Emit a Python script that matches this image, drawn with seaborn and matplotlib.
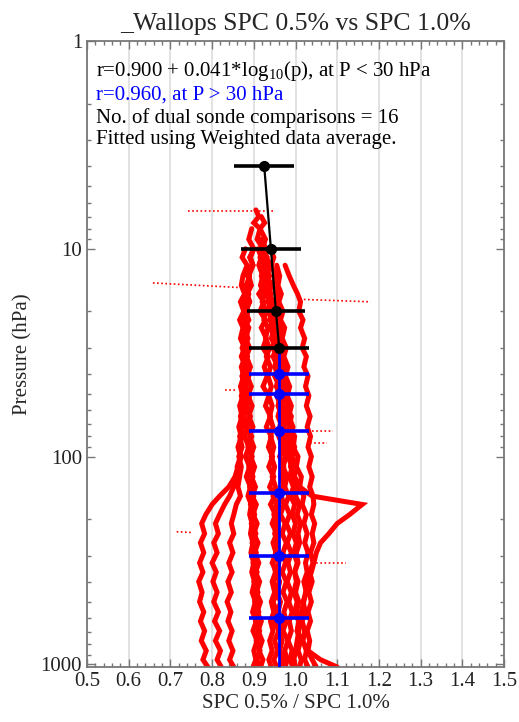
import numpy as np
import pandas as pd
import matplotlib
matplotlib.use("Agg")
import matplotlib.pyplot as plt
from matplotlib.ticker import MultipleLocator, FixedLocator, LogLocator, NullFormatter, FixedFormatter
import seaborn as sns

# ---------------- data ----------------
TITLE = "_Wallops SPC 0.5% vs SPC 1.0%"
XLABEL = "SPC 0.5% / SPC 1.0%"
YLABEL = "Pressure (hPa)"
X_TICKS = [0.5, 0.6, 0.7, 0.8, 0.9, 1.0, 1.1, 1.2, 1.3, 1.4, 1.5]
X_TICK_LABELS = ["0.5", "0.6", "0.7", "0.8", "0.9", "1.0", "1.1", "1.2", "1.3", "1.4", "1.5"]
Y_TICKS = [1, 10, 100, 1000]
Y_TICK_LABELS = ["1", "10", "100", "1000"]

# fitted (weighted average) points, upper part (black) and lower part (blue)
fit_p_upper = [4, 10, 20, 30]
fit_r_upper = [0.925, 0.941, 0.953, 0.961]
fit_err_upper = [0.072, 0.071, 0.070, 0.072]
fit_p_lower = [40, 50, 75, 150, 300, 600]
fit_r_lower = [0.960, 0.960, 0.960, 0.960, 0.960, 0.960]
fit_err_lower = [0.072, 0.072, 0.072, 0.072, 0.072, 0.072]
const_r = 0.960
const_p_range = [30, 1030]

# individual dual-sonde ratio profiles
levels = [6.5, 7, 7.5, 8, 9, 10, 11, 12, 13.5, 15,
          16.5, 18, 20, 22, 24, 27, 30, 33, 37, 41,
          46, 51, 57, 64, 72, 80, 90, 100, 112, 125,
          140, 155, 170, 190, 210, 235, 260, 290, 325, 360,
          400, 450, 500, 560, 620, 690, 770, 860, 950, 1030]
N = np.nan
prof01 = [0.905, 0.912, 0.900, 0.915, 0.908, 0.922, 0.915, 0.928, 0.918, 0.925,
          0.912, 0.924, 0.915, 0.928, 0.918, 0.930, 0.922, 0.935, 0.925, 0.932,
          0.922, 0.936, 0.928, 0.940, 0.930, 0.942, 0.935, 0.945, 0.936, 0.948,
          0.938, 0.950, 0.940, 0.952, 0.944, 0.955, 0.946, 0.953, 0.944, 0.956,
          0.948, 0.958, 0.946, 0.955, 0.948, 0.960, 0.950, 0.957, 0.948, 0.955]
prof02 = [N, 0.918, 0.926, 0.915, 0.928, 0.920, 0.932, 0.925, 0.938, 0.930,
          0.942, 0.935, 0.946, 0.938, 0.950, 0.942, 0.955, 0.946, 0.958, 0.950,
          0.962, 0.955, 0.965, 0.958, 0.968, 0.960, 0.970, 0.962, 0.972, 0.965,
          0.974, 0.966, 0.972, 0.964, 0.975, 0.968, 0.978, 0.970, 0.976, 0.968,
          0.978, 0.970, 0.980, 0.972, 0.978, 0.970, 0.982, 0.974, 0.980, 0.975]
prof03 = [N, N, N, 0.895, 0.888, 0.900, 0.890, 0.898, 0.885, 0.893,
          0.882, 0.890, 0.880, 0.888, 0.878, 0.886, 0.876, 0.885, 0.878, 0.888,
          0.880, 0.890, 0.882, 0.892, 0.884, 0.895, 0.886, 0.896, 0.888, 0.898,
          0.890, 0.900, 0.892, 0.902, 0.894, 0.905, 0.896, 0.906, 0.898, 0.908,
          0.900, 0.910, 0.902, 0.912, 0.904, 0.914, 0.906, 0.915, 0.908, 0.912]
prof04 = [N, N, N, N, 0.915, 0.922, 0.930, 0.924, 0.935, 0.928,
          0.940, 0.934, 0.945, 0.950, 0.944, 0.955, 0.948, 0.960, 0.954, 0.965,
          0.958, 0.968, 0.962, 0.972, 0.965, 0.975, 0.968, 0.978, 0.970, 0.980,
          0.974, 0.984, 0.976, 0.986, 0.978, 0.988, 0.980, 0.990, 0.982, 0.988,
          0.980, 0.990, 0.984, 0.992, 0.985, 0.990, 0.982, 0.992, 0.986, 0.994]
prof05 = [N, N, N, N, N, 0.880, 0.872, 0.884, 0.874, 0.870,
          0.878, 0.868, 0.876, 0.866, 0.874, 0.868, 0.878, 0.870, 0.880, 0.872,
          0.882, 0.874, 0.884, 0.876, 0.886, 0.878, 0.888, 0.880, 0.890, 0.882,
          0.892, 0.886, 0.894, 0.890, 0.896, 0.892, 0.898, 0.893, 0.900, 0.895,
          0.902, 0.896, 0.904, 0.897, 0.906, 0.898, 0.908, 0.900, 0.905, 0.898]
prof06 = [N, N, N, N, N, 0.940, 0.948, 0.942, 0.952, 0.946,
          0.956, 0.950, 0.960, 0.954, 0.965, 0.958, 0.968, 0.962, 0.972, 0.966,
          0.976, 0.970, 0.980, 0.974, 0.985, 0.978, 0.988, 0.982, 0.992, 0.986,
          0.995, 0.988, 0.998, 0.992, 1.000, 0.994, 1.002, 0.996, 1.004, 0.998,
          1.006, 1.000, 1.008, 1.002, 1.010, 1.004, 1.012, 1.006, 1.014, 1.010]
prof07 = [N, N, N, N, N, N, N, 0.975, 0.985, 0.995,
          1.005, 1.012, 1.008, 1.018, 1.012, 1.022, 1.016, 1.026, 1.020, 1.030,
          1.024, 1.032, 1.026, 1.035, 1.028, 1.036, 1.030, 1.038, 1.032, 1.040,
          1.034, 1.042, 1.044, 1.038, 1.046, 1.040, 1.044, 1.036, 1.042, 1.034,
          1.040, 1.032, 1.038, 1.030, 1.036, 1.028, 1.034, 1.030, 1.040, 1.050]
prof08 = [N, N, N, N, N, N, 0.930, 0.938, 0.932, 0.942,
          0.936, 0.946, 0.940, 0.952, 0.946, 0.958, 0.952, 0.965, 0.960, 0.972,
          0.968, 0.980, 0.976, 0.990, 0.985, 0.998, 0.994, 1.006, 1.002, 1.014,
          1.010, 1.020, 1.016, 1.026, 1.020, 1.028, 1.022, 1.030, 1.024, 1.028,
          1.020, 1.026, 1.018, 1.024, 1.016, 1.022, 1.018, 1.026, 1.022, 1.030]
prof09 = [N, N, N, N, N, 0.900, 0.892, 0.898, 0.888, 0.894,
          0.884, 0.890, 0.880, 0.886, 0.876, 0.884, 0.874, 0.880, 0.872, 0.878,
          0.870, 0.876, 0.868, 0.874, 0.866, 0.872, 0.864, 0.870, 0.862, 0.855,
          0.840, 0.818, 0.800, 0.785, 0.775, 0.782, 0.772, 0.780, 0.770, 0.778,
          0.768, 0.776, 0.770, 0.780, 0.772, 0.782, 0.774, 0.786, 0.778, 0.790]
prof10 = [N, N, N, N, N, N, N, 0.895, 0.886, 0.892,
          0.882, 0.888, 0.878, 0.884, 0.875, 0.882, 0.872, 0.880, 0.870, 0.876,
          0.868, 0.874, 0.866, 0.872, 0.864, 0.870, 0.862, 0.868, 0.860, 0.864,
          0.852, 0.842, 0.830, 0.818, 0.808, 0.815, 0.804, 0.812, 0.800, 0.810,
          0.802, 0.812, 0.804, 0.815, 0.806, 0.818, 0.808, 0.820, 0.812, 0.822]
prof11 = [N, N, N, N, N, N, N, N, 0.890, 0.882,
          0.888, 0.880, 0.886, 0.878, 0.884, 0.876, 0.882, 0.874, 0.880, 0.872,
          0.878, 0.870, 0.876, 0.868, 0.874, 0.866, 0.872, 0.864, 0.870, 0.866,
          0.862, 0.868, 0.858, 0.852, 0.846, 0.852, 0.842, 0.850, 0.840, 0.848,
          0.838, 0.846, 0.836, 0.845, 0.838, 0.848, 0.840, 0.850, 0.842, 0.852]
prof12 = [N, N, N, N, N, N, N, N, N, 0.876,
          0.884, 0.876, 0.886, 0.878, 0.888, 0.880, 0.890, 0.882, 0.892, 0.884,
          0.894, 0.886, 0.896, 0.888, 0.898, 0.890, 0.900, 0.892, 0.902, 0.894,
          0.904, 0.896, 0.906, 0.898, 0.908, 0.900, 0.910, 0.902, 0.912, 0.904,
          0.914, 0.906, 0.916, 0.908, 0.918, 0.910, 0.920, 0.912, 0.922, 0.916]
prof13 = [N, N, N, N, 0.920, 0.928, 0.922, 0.932, 0.926, 0.936,
          0.930, 0.940, 0.934, 0.945, 0.940, 0.950, 0.946, 0.956, 0.952, 0.962,
          0.958, 0.968, 0.965, 0.975, 0.972, 0.982, 0.980, 0.990, 0.988, 0.998,
          1.010, 1.040, 1.160, 1.130, 1.100, 1.080, 1.060, 1.050, 1.044, 1.038,
          1.030, 1.024, 1.020, 1.014, 1.012, 1.008, 1.004, 1.000, 0.996, 1.000]
prof14 = [N, N, N, N, N, 0.910, 0.918, 0.912, 0.922, 0.916,
          0.926, 0.920, 0.930, 0.924, 0.934, 0.928, 0.938, 0.930, 0.940, 0.934,
          0.942, 0.936, 0.944, 0.938, 0.946, 0.940, 0.948, 0.942, 0.950, 0.944,
          0.952, 0.946, 0.954, 0.948, 0.956, 0.950, 0.958, 0.952, 0.960, 0.954,
          0.962, 0.956, 0.964, 0.958, 0.966, 0.960, 0.968, 0.962, 0.970, 0.966]
prof15 = [N, N, N, N, N, N, N, 0.955, 0.962, 0.958,
          0.966, 0.960, 0.970, 0.964, 0.974, 0.968, 0.978, 0.972, 0.982, 0.976,
          0.986, 0.980, 0.990, 0.984, 0.994, 0.988, 0.998, 0.992, 1.002, 0.996,
          1.006, 1.000, 1.010, 1.004, 1.012, 1.006, 1.010, 1.002, 1.006, 0.998,
          1.002, 0.996, 1.004, 0.998, 1.008, 1.004, 1.016, 1.030, 1.060, 1.100]
prof16 = [N, N, N, N, N, N, N, N, N, N,
          N, N, 0.940, 0.948, 0.942, 0.952, 0.946, 0.956, 0.950, 0.960,
          0.954, 0.964, 0.958, 0.968, 0.962, 0.972, 0.966, 0.975, 0.968, 0.976,
          0.970, 0.965, 0.958, 0.962, 0.954, 0.958, 0.950, 0.955, 0.946, 0.952,
          0.944, 0.950, 0.942, 0.948, 0.940, 0.946, 0.938, 0.944, 0.936, 0.942]
profiles = [prof01, prof02, prof03, prof04, prof05, prof06, prof07, prof08,
            prof09, prof10, prof11, prof12, prof13, prof14, prof15, prof16]

# sparse stray segments (launch / spike artefacts)
stray_r = [[0.742, 0.950], [0.658, 0.875], [1.010, 1.180], [1.040, 1.090],
           [1.035, 1.075], [1.040, 1.120], [0.830, 0.860], [0.715, 0.750]]
stray_p = [[6.6, 6.6], [14.6, 15.4], [17.5, 18.0], [75, 75],
           [86, 86], [325, 325], [48, 48], [230, 232]]

ANNOT = ["r=0.900 + 0.041*log$_\\mathrm{10}$(p), at P < 30 hPa",
         "r=0.960, at P > 30 hPa",
         "No. of dual sonde comparisons = 16",
         "Fitted using Weighted data average."]
ANNOT_COLORS = ["black", "blue", "black", "black"]

# ---------------- style ----------------
sns.set_style("ticks")
plt.rcParams["font.family"] = ["Liberation Serif", "DejaVu Serif"]
plt.rcParams["mathtext.fontset"] = "custom"
plt.rcParams["mathtext.rm"] = "Liberation Serif"
plt.rcParams["mathtext.it"] = "Liberation Serif:italic"

fig = plt.figure(figsize=(5.19, 7.22), dpi=100)
ax = fig.add_axes([87 / 519, 1 - 667 / 722, 417 / 519, 626 / 722])

rows = []
for i, pr in enumerate(profiles):
    for p, r in zip(levels, pr):
        if not np.isnan(r):
            rows.append({"profile": i, "p": p, "ratio": r})
df = pd.DataFrame(rows)

sns.lineplot(data=df, x="ratio", y="p", units="profile", estimator=None,
             sort=False, color="#ff0000", lw=3.6, solid_joinstyle="miter",
             ax=ax, zorder=2, legend=False)
for sr, sp in zip(stray_r, stray_p):
    ax.plot(sr, sp, color="#ff0000", lw=1.2, ls=(0, (1, 1.5)), zorder=2)

# fit lines
ax.plot(fit_r_upper, fit_p_upper, color="black", lw=1.6, zorder=4)
ax.plot([const_r, const_r], const_p_range, color="blue", lw=2.0, zorder=4)
ax.errorbar(fit_r_upper, fit_p_upper, xerr=fit_err_upper, fmt="o", color="black",
            ms=7, elinewidth=2.6, capsize=0, zorder=5)
ax.errorbar(fit_r_lower, fit_p_lower, xerr=fit_err_lower, fmt="o", color="blue",
            ms=7, elinewidth=2.6, capsize=0, zorder=5)

# axes
ax.set_yscale("log")
ax.set_ylim(1030, 1)
ax.set_xlim(0.5, 1.5)
ax.xaxis.set_major_locator(FixedLocator(X_TICKS))
ax.xaxis.set_major_formatter(FixedFormatter(X_TICK_LABELS))
ax.xaxis.set_minor_locator(MultipleLocator(0.02))
ax.yaxis.set_major_locator(FixedLocator(Y_TICKS))
ax.yaxis.set_major_formatter(FixedFormatter(Y_TICK_LABELS))
ax.yaxis.set_minor_locator(LogLocator(base=10, subs=np.arange(2, 10)))
ax.yaxis.set_minor_formatter(NullFormatter())

ax.grid(True, axis="x", which="major", color="#dddddd", lw=1.2, zorder=0)
ax.set_axisbelow(True)
ax.tick_params(which="both", direction="in", top=True, right=True,
               color="#777777", labelsize=15, labelcolor="#222222", width=1.0)
ax.tick_params(which="major", length=6)
ax.tick_params(which="minor", length=3)
for s in ax.spines.values():
    s.set_color("#777777")
    s.set_linewidth(1.3)

ax.set_xlabel(XLABEL, fontsize=15, labelpad=2)
ax.set_ylabel(YLABEL, fontsize=15, labelpad=6)
ax.set_title(TITLE, fontsize=18.5, pad=8)

ypos = [0.952, 0.914, 0.877, 0.842]
for t, c, yy in zip(ANNOT, ANNOT_COLORS, ypos):
    ax.text(0.022, yy, t, color=c, fontsize=15, transform=ax.transAxes,
            ha="left", va="center")

fig.savefig("out.png", dpi=100)
